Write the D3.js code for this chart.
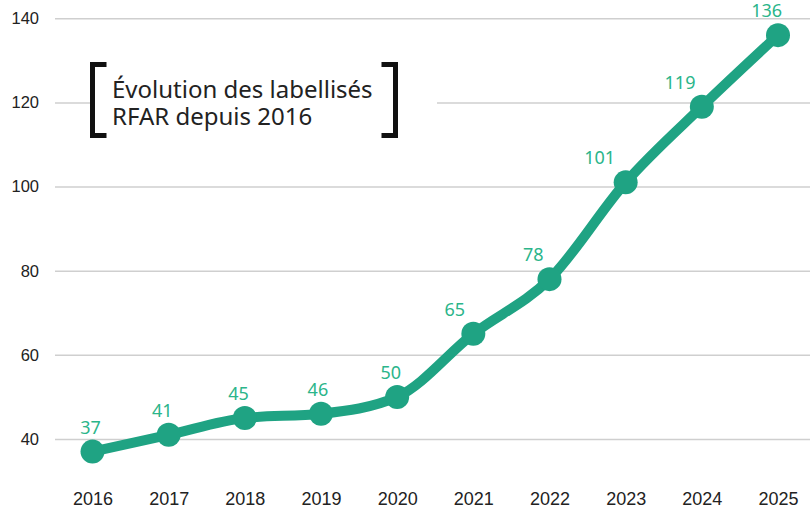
<!DOCTYPE html>
<html>
<head>
<meta charset="utf-8">
<script src="https://cdn.jsdelivr.net/npm/d3@7"></script>
<style>
  body { margin: 0; background: #fff; }
  svg { display: block; font-family: "Noto Sans", sans-serif; }
  .axis text { fill: #222; }
</style>
</head>
<body>
<div id="chart"></div>
<script>
// Évolution des labellisés RFAR depuis 2016
const years = [2016, 2017, 2018, 2019, 2020, 2021, 2022, 2023, 2024, 2025];
const counts = [37, 41, 45, 46, 50, 65, 78, 101, 119, 136];
const yTicks = [40, 60, 80, 100, 120, 140];
const titleLines = ["Évolution des labellisés", "RFAR depuis 2016"];

const W = 810, H = 509;
const lineColor = "#1fa383";
const labelColor = "#2bb58a";

const svg = d3.select("#chart").append("svg")
  .attr("width", W).attr("height", H);

const x = d3.scalePoint().domain(years).range([92.5, 778]);
const y = d3.scaleLinear().domain([40, 140]).range([439, 18.3]);

// gridlines + y labels
const gy = svg.append("g").attr("class", "axis")
  .attr("transform", "translate(55,0)")
  .call(d3.axisLeft(y).tickValues(yTicks).tickSize(-(W - 55)).tickPadding(16));
gy.select(".domain").remove();
gy.selectAll(".tick line").attr("stroke", "#cfcfcf").attr("stroke-width", 1.5);
gy.selectAll(".tick text").attr("font-size", 16.5);

// x labels
const gx = svg.append("g").attr("class", "axis")
  .attr("transform", "translate(0,488)")
  .call(d3.axisBottom(x).tickSize(0).tickPadding(4));
gx.select(".domain").remove();
gx.selectAll(".tick text").attr("font-size", 18);

// title box (white background hides the gridline)
const box = svg.append("g").attr("transform", "translate(90,62)");
box.append("rect").attr("width", 347).attr("height", 76).attr("fill", "#fff");
const bw = 5, bl = 14;
box.append("path")
  .attr("d", `M${bl + 2.5},2.5 H2.5 V73.5 H${bl + 2.5}`)
  .attr("fill", "none").attr("stroke", "#111").attr("stroke-width", bw);
box.append("path")
  .attr("d", `M${305.5 - bl},2.5 H305.5 V73.5 H${305.5 - bl}`)
  .attr("fill", "none").attr("stroke", "#111").attr("stroke-width", bw);
box.selectAll("text.title")
  .data(titleLines)
  .join("text")
  .attr("class", "title")
  .attr("x", 22)
  .attr("y", (d, i) => 36 + i * 27)
  .attr("font-size", 24)
  .attr("fill", "#222")
  .text(d => d);

const pts = years.map((yr, i) => ({ year: yr, value: counts[i] }));

const line = d3.line()
  .x(d => x(d.year))
  .y(d => y(d.value))
  .curve(d3.curveMonotoneX);

svg.append("path")
  .datum(pts)
  .attr("fill", "none")
  .attr("stroke", lineColor)
  .attr("stroke-width", 10)
  .attr("stroke-linejoin", "round")
  .attr("d", line);

svg.selectAll("circle.pt")
  .data(pts)
  .join("circle")
  .attr("class", "pt")
  .attr("cx", d => x(d.year))
  .attr("cy", d => y(d.value))
  .attr("r", 12)
  .attr("fill", lineColor);

// value labels, nudged left where the incoming segment is steep
function shift(i) {
  const inc = i > 0 ? counts[i] - counts[i - 1] : 0;
  const s = i === counts.length - 1 ? inc / 2 : inc;
  return -Math.min(26, 2 + s * 1.1);
}

svg.selectAll("text.val")
  .data(pts)
  .join("text")
  .attr("class", "val")
  .attr("x", (d, i) => x(d.year) + shift(i))
  .attr("y", d => y(d.value) - 18)
  .attr("text-anchor", "middle")
  .attr("font-size", 18)
  .attr("fill", labelColor)
  .text(d => d.value);
</script>
</body>
</html>
